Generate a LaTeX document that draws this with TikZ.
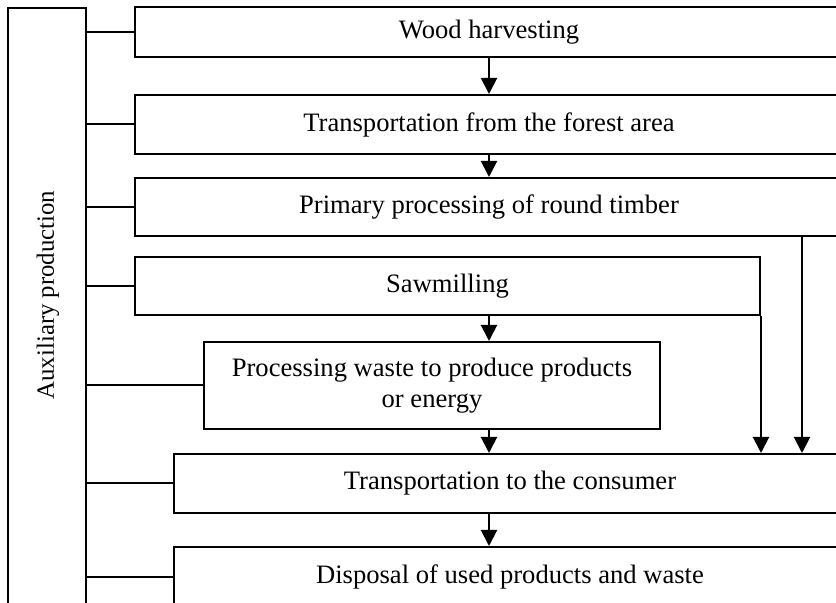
\documentclass[tikz,border=0pt]{standalone}
\usepackage{fontspec}
\setmainfont{Liberation Serif}
\usetikzlibrary{arrows.meta}

\begin{document}
\begin{tikzpicture}[x=0.5pt,y=-0.5pt,
  stage/.style={draw, line width=1pt, inner sep=0pt, align=center,
    minimum height=#1, font=\fontsize{13.3}{15.5}\selectfont},
  link/.style={line width=1pt},
  flow/.style={line width=1pt, -{Triangle[width=8pt,length=8pt]}}]

\useasboundingbox (0,0) rectangle (836,603);
\clip (0,0) rectangle (836,603);

% Auxiliary production
\node[stage=310pt, minimum width=39pt] (aux) at (47,318) {};
\node[rotate=90, font=\fontsize{12.4}{15}\selectfont] (auxtext) at (48,295) {Auxiliary production};

% Main chain
\node[stage=25pt, minimum width=354pt] (wood) at (489,32) {Wood harvesting};
\node[stage=29.5pt, minimum width=354pt] (forest) at (489,124.5) {Transportation from the forest area};
\node[stage=29pt, minimum width=354pt] (primary) at (489,207) {Primary processing of round timber};
\node[stage=29pt, minimum width=312.5pt] (saw) at (447.5,286) {Sawmilling};
\node[stage=43.5pt, minimum width=228pt] (waste) at (432,385.5) {Processing waste to produce products\\or energy};
\node[stage=29.5pt, minimum width=336pt] (consumer) at (510,483.5) {Transportation to the consumer};
\node[stage=30pt, minimum width=336pt] (disposal) at (510,577) {Disposal of used products and waste};

% Links to auxiliary production
\foreach \stg in {wood,forest,primary,saw,waste,consumer,disposal}
  \draw[link] (aux.east |- \stg.west) -- (\stg.west);

% Flow arrows
\coordinate (spine) at (489,0);
\coordinate (bypass) at (802,0);
\draw[flow] (wood.south) -- (forest.north);
\draw[flow] (forest.south) -- (primary.north);
\draw[flow] (spine |- saw.south) -- (spine |- waste.north);
\draw[flow] (spine |- waste.south) -- (spine |- consumer.north);
\draw[flow] (spine |- consumer.south) -- (spine |- disposal.north);
\draw[flow] (saw.south east) -- (saw.south east |- consumer.north);
\draw[flow] (bypass |- primary.south) -- (bypass |- consumer.north);

\end{tikzpicture}
\end{document}
